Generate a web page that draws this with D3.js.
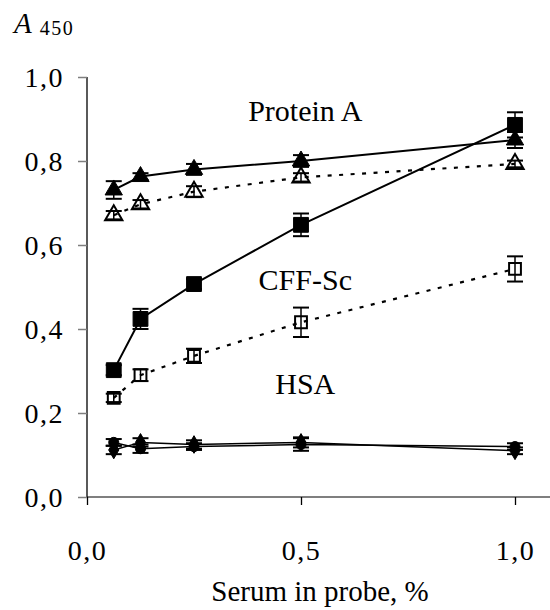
<!DOCTYPE html>
<html>
<head>
<meta charset="utf-8">
<script src="https://cdn.jsdelivr.net/npm/d3@7"></script>
<style>
  @font-face {
    font-family: "ChartSerif";
    src: local("Liberation Serif"), local("LiberationSerif"), local("LiberationSerif-Regular"),
         local("Tinos"), local("Tinos-Regular"), local("Nimbus Roman"), local("FreeSerif");
    font-style: normal;
  }
  @font-face {
    font-family: "ChartSerif";
    src: local("Liberation Serif Italic"), local("LiberationSerif-Italic"),
         local("Tinos Italic"), local("Tinos-Italic");
    font-style: italic;
  }
  svg text, svg tspan {
    font-family: "Liberation Serif", "ChartSerif", "Tinos", "Nimbus Roman", "FreeSerif", "Noto Serif" !important;
  }
</style>
</head>
<body style="margin:0">
<svg id="plot" width="550" height="610" font-family="Liberation Serif"></svg>
<script>
// Serum dilutions, % (x positions of every series)
const serum = [0.0625, 0.125, 0.25, 0.5, 1.0];

// Protein A coated wells
const protAFilled    = [0.731, 0.763, 0.780, 0.800, 0.850];
const protAFilledErr = [0.021, 0.008, 0.013, 0.014, 0.019];
const protAOpen      = [0.671, 0.697, 0.727, 0.761, 0.793];
const protAOpenErr   = [0.010, 0.010, 0.013, 0.010, 0.008];

// CFF-Sc coated wells
const cffFilled    = [0.302, 0.424, 0.507, 0.648, 0.886];
const cffFilledErr = [0.012, 0.024, 0.012, 0.027, 0.030];
const cffOpen      = [0.236, 0.290, 0.336, 0.416, 0.543];
const cffOpenErr   = [0.010, 0.014, 0.017, 0.035, 0.030];

// HSA coated wells
const hsaA    = [0.112, 0.130, 0.125, 0.130, 0.110];
const hsaAErr = [0.010, 0.010, 0.010, 0.012, 0.008];
const hsaB    = [0.130, 0.115, 0.120, 0.125, 0.120];
const hsaBErr = [0.008, 0.010, 0.008, 0.015, 0.008];

// Axis ticks
const xTicks = [0, 0.5, 1.0];
const yTicks = [0, 0.2, 0.4, 0.6, 0.8, 1.0];
const fmt = v => v.toFixed(1).replace(".", ",");

const svg = d3.select("#plot");
const x = d3.scaleLinear().domain([0, 1]).range([87, 515]);
const y = d3.scaleLinear().domain([0, 1]).range([497, 77]);

function sized(sel, size) {
  return sel.style("font-size", size + "px");
}

// X axis: grey baseline running to the right edge, dark ticks below
svg.append("line")
  .attr("x1", x(0)).attr("x2", 550)
  .attr("y1", y(0)).attr("y2", y(0))
  .attr("stroke", "#7f7f7f").attr("stroke-width", 2);
const xAxis = svg.append("g").attr("transform", `translate(0,${y(0)})`)
  .call(d3.axisBottom(x).tickValues(xTicks).tickSize(8).tickPadding(0).tickFormat(fmt))
  .attr("font-family", null);
xAxis.select(".domain").remove();
xAxis.selectAll(".tick line").attr("stroke", "#000").attr("stroke-width", 1.3);
sized(xAxis.selectAll(".tick text"), 28)
  .attr("y", 63).attr("dy", null).attr("fill", "#000")
  .style("letter-spacing", "1.5px");

// Y axis
const yAxis = svg.append("g").attr("transform", `translate(${x(0)},0)`)
  .call(d3.axisLeft(y).tickValues(yTicks).tickSize(9).tickPadding(14).tickFormat(fmt))
  .attr("font-family", null);
yAxis.select(".domain").attr("stroke", "#000").attr("stroke-width", 1.3)
  .attr("d", `M0,${y(1)}V${y(0)}`);
yAxis.selectAll(".tick line").attr("stroke", "#7f7f7f").attr("stroke-width", 1.5);
sized(yAxis.selectAll(".tick text"), 28)
  .attr("dy", "0.34em").attr("fill", "#000")
  .style("letter-spacing", "1.5px");

// Axis titles
const yTitle = sized(svg.append("text").attr("x", 14).attr("y", 33), 29);
yTitle.append("tspan").text("A").style("font-style", "italic");
yTitle.append("tspan").text("450").attr("dx", 8).attr("dy", 2)
  .style("font-size", "20px").style("letter-spacing", "1.5px");

sized(svg.append("text"), 29)
  .attr("x", 320).attr("y", 601).attr("text-anchor", "middle")
  .text("Serum in probe, %");

// Series definitions
const series = [
  { v: protAOpen, e: protAOpenErr, sym: d3.symbolTriangle, size: 130, fill: "none", dash: "4,7.5", lw: 2.2 },
  { v: cffOpen,   e: cffOpenErr,   sym: d3.symbolSquare,   size: 140, fill: "none", dash: "4,7.5", lw: 2.2 },
  { v: protAFilled, e: protAFilledErr, sym: d3.symbolTriangle, size: 130, fill: "#000", dash: null, lw: 2 },
  { v: cffFilled,   e: cffFilledErr,   sym: d3.symbolSquare,   size: 220, fill: "#000", dash: null, lw: 2 },
  { v: hsaA, e: hsaAErr, sym: d3.symbolDiamond, size: 90, fill: "#000", dash: null, lw: 1.5 },
  { v: hsaB, e: hsaBErr, sym: d3.symbolCircle,  size: 80, fill: "#000", dash: null, lw: 1.5 }
];

const line = d3.line().x(d => x(d[0])).y(d => y(d[1]));

series.forEach(s => {
  const pts = serum.map((sx, i) => [sx, s.v[i], s.e[i]]);
  const g = svg.append("g");

  g.append("path").datum(pts)
    .attr("d", line)
    .attr("fill", "none").attr("stroke", "#000")
    .attr("stroke-width", s.lw)
    .attr("stroke-dasharray", s.dash);

  // error bars with caps
  const eb = g.selectAll(".eb").data(pts).join("g");
  eb.append("line")
    .attr("x1", d => x(d[0])).attr("x2", d => x(d[0]))
    .attr("y1", d => y(d[1] - d[2])).attr("y2", d => y(d[1] + d[2]))
    .attr("stroke", "#000").attr("stroke-width", 1.5);
  [1, -1].forEach(sg => {
    eb.append("line")
      .attr("x1", d => x(d[0]) - 8).attr("x2", d => x(d[0]) + 8)
      .attr("y1", d => y(d[1] + sg * d[2])).attr("y2", d => y(d[1] + sg * d[2]))
      .attr("stroke", "#000").attr("stroke-width", 2);
  });

  // markers
  g.selectAll(".mk").data(pts).join("path")
    .attr("transform", d => `translate(${x(d[0])},${y(d[1])})`)
    .attr("d", d3.symbol().type(s.sym).size(s.size))
    .attr("fill", s.fill)
    .attr("stroke", "#000").attr("stroke-width", s.fill === "none" ? 2 : 1);
});

// Coating labels
const labels = [
  { text: "Protein A", cx: 0.51, cy: 0.896 },
  { text: "CFF-Sc",    cx: 0.51, cy: 0.492 },
  { text: "HSA",       cx: 0.51, cy: 0.245 }
];
sized(svg.selectAll(".lbl").data(labels).join("text"), 30)
  .attr("x", d => x(d.cx)).attr("y", d => y(d.cy))
  .attr("text-anchor", "middle")
  .text(d => d.text);
</script>
</body>
</html>
